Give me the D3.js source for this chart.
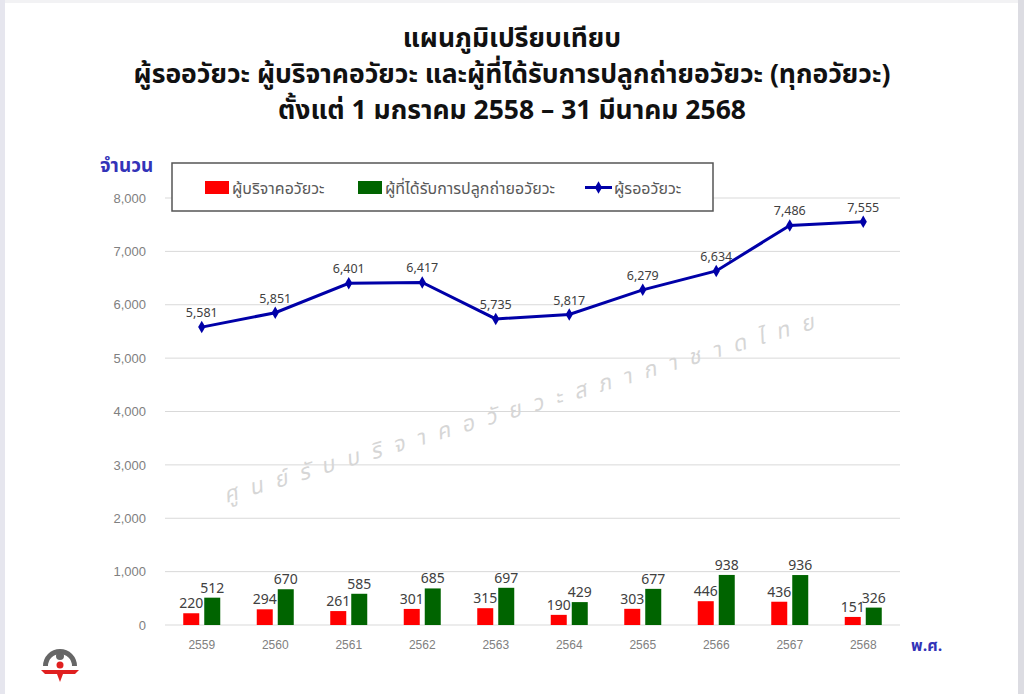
<!DOCTYPE html>
<html>
<head>
<meta charset="utf-8">
<script src="https://cdn.jsdelivr.net/npm/d3@7"></script>
<style>
  body { margin: 0; background: #fff; }
  svg { display: block; font-family: "Noto Sans Thai", "Noto Sans", "Open Sans", sans-serif; }
</style>
</head>
<body>
<svg id="chart" width="1024" height="694"></svg>
<script>
var years = ["2559", "2560", "2561", "2562", "2563", "2564", "2565", "2566", "2567", "2568"];
var donors = [220, 294, 261, 301, 315, 190, 303, 446, 436, 151];
var recipients = [512, 670, 585, 685, 697, 429, 677, 938, 936, 326];
var waiting = [5581, 5851, 6401, 6417, 5735, 5817, 6279, 6634, 7486, 7555];
var yTicks = [0, 1000, 2000, 3000, 4000, 5000, 6000, 7000, 8000];

var titleLines = [
  "แผนภูมิเปรียบเทียบ",
  "ผู้รออวัยวะ ผู้บริจาคอวัยวะ และผู้ที่ได้รับการปลูกถ่ายอวัยวะ (ทุกอวัยวะ)",
  "ตั้งแต่ 1 มกราคม 2558 – 31 มีนาคม 2568"
];
var seriesNames = ["ผู้บริจาคอวัยวะ", "ผู้ที่ได้รับการปลูกถ่ายอวัยวะ", "ผู้รออวัยวะ"];
var watermark = "ศูนย์รับบริจาคอวัยวะสภากาชาดไทย";

var svg = d3.select("#chart");
var fmt = d3.format(",");

// page frame like the photo
svg.append("rect").attr("x", 0).attr("y", 0).attr("width", 5).attr("height", 694).attr("fill", "#e6e6ee");
svg.append("rect").attr("x", 1018).attr("y", 0).attr("width", 6).attr("height", 694).attr("fill", "#dcdce2");
svg.append("rect").attr("x", 5).attr("y", 0).attr("width", 1013).attr("height", 3).attr("fill", "#f2f2f4");

var xScale = d3.scaleBand().domain(years).range([165, 900]);
var yScale = d3.scaleLinear().domain([0, 8000]).range([625, 198]);

// title
svg.selectAll(".title").data(titleLines).enter()
  .append("text")
  .attr("x", 512)
  .attr("y", function(d, i) { return 47 + i * 36; })
  .attr("text-anchor", "middle")
  .attr("font-size", "26.5px")
  .attr("font-weight", "bold")
  .attr("fill", "#111")
  .text(function(d) { return d; });

// gridlines
svg.selectAll(".grid").data(yTicks).enter()
  .append("line")
  .attr("x1", 165).attr("x2", 900)
  .attr("y1", function(d) { return yScale(d); })
  .attr("y2", function(d) { return yScale(d); })
  .attr("stroke", "#d9d9d9")
  .attr("stroke-width", 1);

// y axis labels
var yAxis = d3.axisLeft(yScale).tickValues(yTicks).tickFormat(fmt).tickSize(0).tickPadding(0);
var yg = svg.append("g").attr("transform", "translate(146,0)").call(yAxis);
yg.select(".domain").remove();
yg.selectAll("text").attr("font-size", "13px").attr("fill", "#808080").attr("font-family", "inherit");

// x axis labels
var xAxis = d3.axisBottom(xScale).tickSize(0).tickPadding(0);
var xg = svg.append("g").attr("transform", "translate(0,640)").call(xAxis);
xg.select(".domain").remove();
xg.selectAll("text").attr("font-size", "12px").attr("fill", "#808080").attr("font-family", "inherit");

svg.append("text").attr("x", 100).attr("y", 172).attr("font-size", "19px").attr("font-weight", "bold")
  .attr("fill", "#3333b8").text("จำนวน");
svg.append("text").attr("x", 911).attr("y", 651).attr("font-size", "16px").attr("font-weight", "bold")
  .attr("fill", "#3333b8").text("พ.ศ.");

// watermark
svg.append("text")
  .attr("transform", "translate(226,503) rotate(-16.5)")
  .attr("font-size", "22px")
  .attr("letter-spacing", "12.5px")
  .attr("fill", "#d6d6d6")
  .attr("font-style", "italic")
  .text(watermark);

// bars
var barW = 16;
var barData = [];
years.forEach(function(y, i) {
  barData.push({ year: y, value: donors[i], off: -18.5, color: "#ff0000" });
  barData.push({ year: y, value: recipients[i], off: 2.5, color: "#006400" });
});

svg.selectAll(".bar").data(barData).enter()
  .append("rect")
  .attr("x", function(d) { return xScale(d.year) + xScale.bandwidth() / 2 + d.off; })
  .attr("y", function(d) { return yScale(d.value); })
  .attr("width", barW)
  .attr("height", function(d) { return yScale(0) - yScale(d.value); })
  .attr("fill", function(d) { return d.color; });

svg.selectAll(".barlabel").data(barData).enter()
  .append("text")
  .attr("x", function(d) { return xScale(d.year) + xScale.bandwidth() / 2 + d.off + barW / 2; })
  .attr("y", function(d) { return yScale(d.value) - 5; })
  .attr("text-anchor", "middle")
  .attr("font-size", "14px")
  .attr("fill", "#404040")
  .text(function(d) { return fmt(d.value); });

// line
var cx = function(i) { return xScale(years[i]) + xScale.bandwidth() / 2; };
var line = d3.line()
  .x(function(d, i) { return cx(i); })
  .y(function(d) { return yScale(d); });

svg.append("path").datum(waiting)
  .attr("d", line)
  .attr("fill", "none")
  .attr("stroke", "#0000a8")
  .attr("stroke-width", 3);

var diamond = d3.symbol().type(d3.symbolDiamond).size(45);
svg.selectAll(".marker").data(waiting).enter()
  .append("path")
  .attr("d", diamond)
  .attr("transform", function(d, i) { return "translate(" + cx(i) + "," + yScale(d) + ")"; })
  .attr("fill", "#0000a8");

svg.selectAll(".linelabel").data(waiting).enter()
  .append("text")
  .attr("x", function(d, i) { return cx(i); })
  .attr("y", function(d) { return yScale(d) - 10; })
  .attr("text-anchor", "middle")
  .attr("font-size", "12.5px")
  .attr("fill", "#404040")
  .text(function(d) { return fmt(d); });

// legend
var lg = svg.append("g");
lg.append("rect").attr("x", 172).attr("y", 163).attr("width", 541).attr("height", 48)
  .attr("fill", "#fff").attr("stroke", "#555").attr("stroke-width", 1.5);

var legendX = [205, 358, 585];
lg.append("rect").attr("x", legendX[0]).attr("y", 181).attr("width", 24).attr("height", 13).attr("fill", "#ff0000");
lg.append("rect").attr("x", legendX[1]).attr("y", 181).attr("width", 24).attr("height", 13).attr("fill", "#006400");
lg.append("line").attr("x1", legendX[2]).attr("x2", legendX[2] + 27).attr("y1", 187.5).attr("y2", 187.5)
  .attr("stroke", "#0000a8").attr("stroke-width", 3);
lg.append("path").attr("d", diamond).attr("transform", "translate(" + (legendX[2] + 13.5) + ",187.5)").attr("fill", "#0000a8");

lg.selectAll(".legtext").data(seriesNames).enter()
  .append("text")
  .attr("x", function(d, i) { return legendX[i] + (i == 2 ? 29 : 27); })
  .attr("y", 194)
  .attr("font-size", "16px")
  .attr("fill", "#595959")
  .text(function(d) { return d; });

// small logo in the corner
var logo = svg.append("g").attr("transform", "translate(60,666)");
logo.append("path").attr("d", d3.arc()({ innerRadius: 12, outerRadius: 17, startAngle: -Math.PI / 2, endAngle: Math.PI / 2 }))
  .attr("fill", "#666");
logo.append("circle").attr("cx", 0).attr("cy", -10).attr("r", 4).attr("fill", "#666");
logo.append("circle").attr("cx", 0).attr("cy", -1).attr("r", 3.5).attr("fill", "#e02020");
logo.append("path").attr("d", "M-19,4 L19,4 L15,8 L3,8 L0,16 L-3,8 L-15,8 Z").attr("fill", "#e02020");
</script>
</body>
</html>
